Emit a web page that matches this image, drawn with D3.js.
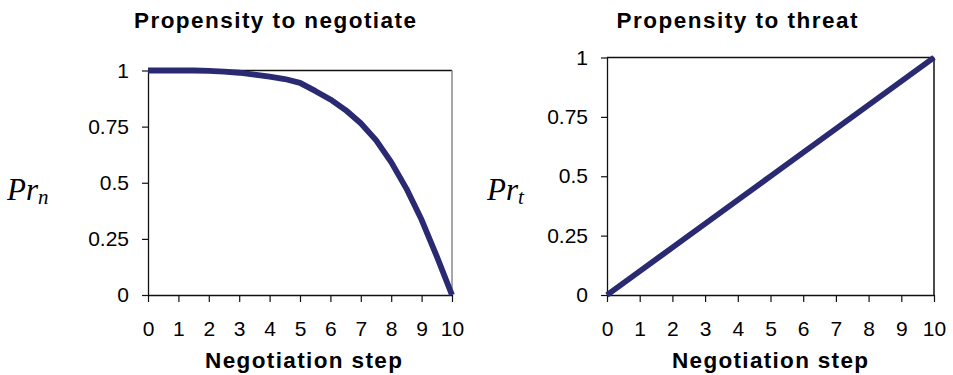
<!DOCTYPE html>
<html><head><meta charset="utf-8">
<script src="https://cdn.jsdelivr.net/npm/d3@7"></script>
<style>
html,body{margin:0;padding:0;background:#fff;}
svg{display:block;}
text{font-family:"Liberation Sans",Arial,sans-serif;}
</style></head>
<body>
<svg id="chart" width="953" height="375"></svg>
<script>
// ---- data ----
const negotiateSteps = [0, 0.5, 1, 1.5, 2, 2.5, 3, 3.5, 4, 4.5, 5, 5.5, 6, 6.5, 7, 7.5, 8, 8.5, 9, 9.5, 10];
const negotiateValues = [1, 1, 1, 1, 0.998, 0.995, 0.99, 0.982, 0.973, 0.962, 0.945, 0.909, 0.871, 0.824, 0.765, 0.69, 0.592, 0.474, 0.335, 0.172, 0];
const threatSteps = [0, 1, 2, 3, 4, 5, 6, 7, 8, 9, 10];
const threatValues = [0, 0.1, 0.2, 0.3, 0.4, 0.5, 0.6, 0.7, 0.8, 0.9, 1];
const yTicks = [0, 0.25, 0.5, 0.75, 1];
const xTicks = [0, 1, 2, 3, 4, 5, 6, 7, 8, 9, 10];
const titles = ["Propensity to negotiate", "Propensity to threat"];
const xLabel = "Negotiation step";
const ySubs = ["n", "t"];

const svg = d3.select("#chart");
const lineColor = "#2a2a72";

const panels = [
  {steps: negotiateSteps, values: negotiateValues, x0: 148, x1: 452, y0: 70.5, y1: 295, rightColor: "#888",
   titleX: 275, titleW: 282, xlabX: 303.5, xlabW: 197, yLabX: 7},
  {steps: threatSteps, values: threatValues, x0: 607, x1: 934, y0: 57.5, y1: 295, rightColor: "#111",
   titleX: 737, titleW: 241, xlabX: 770, xlabW: 196, yLabX: 487}
];

panels.forEach((p, i) => {
  const g = svg.append("g");
  const x = d3.scaleLinear().domain([0, 10]).range([p.x0, p.x1]);
  const y = d3.scaleLinear().domain([0, 1]).range([p.y1, p.y0]);

  // frame: top and right
  g.append("line").attr("x1", p.x0).attr("x2", p.x1).attr("y1", p.y0).attr("y2", p.y0)
    .attr("stroke", "#111").attr("stroke-width", 1.3);
  g.append("line").attr("x1", p.x1).attr("x2", p.x1).attr("y1", p.y0).attr("y2", p.y1)
    .attr("stroke", p.rightColor).attr("stroke-width", 1.5);

  // axes
  const ya = g.append("g").attr("transform", `translate(${p.x0},0)`)
    .call(d3.axisLeft(y).tickValues(yTicks).tickSize(6).tickPadding(13).tickFormat(d3.format("")));
  const xa = g.append("g").attr("transform", `translate(0,${p.y1})`)
    .call(d3.axisBottom(x).tickValues(xTicks).tickSize(7).tickPadding(19).tickFormat(d3.format("d")));
  [ya, xa].forEach(a => {
    a.select(".domain").attr("stroke", "#111").attr("stroke-width", 1.3);
    a.selectAll(".tick line").attr("stroke", "#111").attr("stroke-width", 1.2);
    a.selectAll(".tick text").attr("font-size", 21).attr("fill", "#000")
      .style("font-family", '"Liberation Sans",Arial,sans-serif');
  });
  ya.select(".domain").attr("d", `M0.5,${p.y0}V${p.y1}`);
  xa.select(".domain").attr("d", `M${p.x0},0.5H${p.x1}`);

  // line
  const line = d3.line().x((d, k) => x(p.steps[k])).y(d => y(d));
  g.append("path").datum(p.values).attr("d", line)
    .attr("fill", "none").attr("stroke", lineColor).attr("stroke-width", 5.8)
    .attr("stroke-linejoin", "round");

  // title
  g.append("text").attr("x", p.titleX).attr("y", 28).attr("text-anchor", "middle")
    .attr("font-size", 22.5).attr("font-weight", "bold")
    .attr("textLength", p.titleW).attr("lengthAdjust", "spacing")
    .text(titles[i]);

  // x label
  g.append("text").attr("x", p.xlabX).attr("y", 367.5).attr("text-anchor", "middle")
    .attr("font-size", 22.5).attr("font-weight", "bold")
    .attr("textLength", p.xlabW).attr("lengthAdjust", "spacing")
    .text(xLabel);

  // y label Pr_sub
  const t = g.append("text").attr("x", p.yLabX).attr("y", 200)
    .style("font-family", '"Liberation Serif","Times New Roman",serif')
    .attr("font-style", "italic").attr("font-size", 31);
  t.append("tspan").text("Pr");
  t.append("tspan").attr("font-size", 21).attr("dy", 4).text(ySubs[i]);
});
</script>
</body></html>
